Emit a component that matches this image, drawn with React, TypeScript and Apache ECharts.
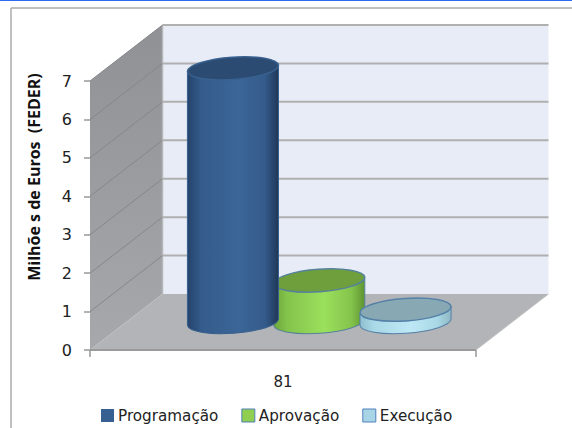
import React, { useEffect, useRef } from "react";
import * as echarts from "echarts";

const categories = ["81"];
const seriesNames = ["Programação", "Aprovação", "Execução"];
const programacao = [6.6];
const aprovacao = [1.08];
const execucao = [0.32];
const yTicks = [0, 1, 2, 3, 4, 5, 6, 7];
const yTitle = "Milhõe s de Euros  (FEDER)";

const DEPTH_X = 72.5;
const DEPTH_Y = 56;
const TILT = 0.07;
const FONT = "'DejaVu Sans', sans-serif";

type Palette = { edgeL: string; side: string; mid: string; edgeR: string; top: string; line: string; swatch: string };
const palettes: Palette[] = [
  { edgeL: "#24436c", side: "#345b8b", mid: "#3c6698", edgeR: "#1f3757", top: "#2c4b72", line: "#38618f", swatch: "#376092" },
  { edgeL: "#6da53a", side: "#84c44c", mid: "#9be05c", edgeR: "#5f9431", top: "#6f9f3c", line: "#55829a", swatch: "#8fce4e" },
  { edgeL: "#8fbfce", side: "#a9d8e6", mid: "#bfe8f5", edgeR: "#8fb7c4", top: "#88a9b4", line: "#5581a8", swatch: "#a8d5e5" },
];

function cylinder(slot: number, pal: Palette) {
  return (params: any, api: any) => {
    const band = api.size([1, 0])[0];
    const zero = api.coord([api.value(0), 0]);
    const top = api.coord([api.value(0), api.value(1)]);
    const rx = band * 0.118;
    const ry = 11.2;
    const cx = zero[0] + DEPTH_X / 2 + slot * band * 0.2235;
    const baseY = zero[1] - DEPTH_Y / 2;
    const topY = top[1] - DEPTH_Y / 2;
    const dy = rx * Math.sin(TILT);
    const fill = new echarts.graphic.LinearGradient(0, 0, 1, 0, [
      { offset: 0, color: pal.edgeL },
      { offset: 0.15, color: pal.side },
      { offset: 0.55, color: pal.mid },
      { offset: 0.85, color: pal.side },
      { offset: 1, color: pal.edgeR },
    ]);
    const thin = { stroke: pal.line, lineWidth: 1 };
    return {
      type: "group",
      children: [
        {
          type: "ellipse",
          shape: { cx: 0, cy: 0, rx, ry },
          x: cx,
          y: baseY,
          rotation: TILT,
          style: { fill, ...thin },
        },
        {
          type: "polygon",
          shape: {
            points: [
              [cx - rx, topY + dy],
              [cx + rx, topY - dy],
              [cx + rx, baseY - dy],
              [cx - rx, baseY + dy],
            ],
          },
          style: { fill },
        },
        { type: "line", shape: { x1: cx - rx, y1: topY + dy, x2: cx - rx, y2: baseY + dy }, style: thin },
        { type: "line", shape: { x1: cx + rx, y1: topY - dy, x2: cx + rx, y2: baseY - dy }, style: thin },
        {
          type: "ellipse",
          shape: { cx: 0, cy: 0, rx, ry },
          x: cx,
          y: topY,
          rotation: TILT,
          style: { fill: pal.top, stroke: pal.line, lineWidth: 1.5 },
        },
      ],
    };
  };
}

function frame(params: any, api: any) {
  const v = api.value(0);
  const band = api.size([1, 0])[0];
  const p = api.coord([0, v]);
  const left = p[0] - band / 2;
  const right = left + band;
  const y = p[1];
  const children: any[] = [];
  const lo = api.coord([0, yTicks[0]])[1];
  const hi = api.coord([0, yTicks[yTicks.length - 1]])[1];
  if (params.dataIndex === 0) {
    children.push(
      {
        type: "polygon",
        shape: { points: [[left + DEPTH_X, lo - DEPTH_Y], [left + band + DEPTH_X, lo - DEPTH_Y], [left + band + DEPTH_X, hi - DEPTH_Y], [left + DEPTH_X, hi - DEPTH_Y]] },
        style: { fill: "#e8ecf6" },
      },
      {
        type: "polygon",
        shape: { points: [[left, lo], [left + DEPTH_X, lo - DEPTH_Y], [left + DEPTH_X, hi - DEPTH_Y], [left, hi]] },
        style: {
          fill: new echarts.graphic.LinearGradient(0, 0, 0, 1, [
            { offset: 0, color: "#8f9194" },
            { offset: 1, color: "#a6a8ab" },
          ]),
        },
      },
      {
        type: "polygon",
        shape: { points: [[left, lo], [right, lo], [right + DEPTH_X, lo - DEPTH_Y], [left + DEPTH_X, lo - DEPTH_Y]] },
        style: { fill: "#b2b4b7" },
      },
      { type: "line", shape: { x1: left + DEPTH_X, y1: hi - DEPTH_Y, x2: left + DEPTH_X, y2: lo - DEPTH_Y }, style: { stroke: "#b4b6b9", lineWidth: 1.5 } },
      { type: "line", shape: { x1: left, y1: lo, x2: right, y2: lo }, style: { stroke: "#9a9a9a", lineWidth: 2 } },
      { type: "line", shape: { x1: right, y1: lo, x2: right + DEPTH_X, y2: lo - DEPTH_Y }, style: { stroke: "#c4c4c4", lineWidth: 1 } },
    );
  }
  if (params.dataIndex > 0) {
    children.push(
      { type: "line", shape: { x1: left, y1: y, x2: left + DEPTH_X, y2: y - DEPTH_Y }, style: { stroke: "#85878a", lineWidth: 1 } },
      { type: "line", shape: { x1: left + DEPTH_X, y1: y - DEPTH_Y, x2: left + DEPTH_X + band, y2: y - DEPTH_Y }, style: { stroke: "#b0b0b0", lineWidth: 2 } },
    );
  }
  return { type: "group", children };
}

export default function App() {
  const ref = useRef<HTMLDivElement>(null);
  useEffect(() => {
    const chart = echarts.init(ref.current!, null, { renderer: "svg" });
    const values = [programacao, aprovacao, execucao];
    const zs = [5, 3, 4];
    chart.setOption({
      animation: false,
      backgroundColor: "#ffffff",
      textStyle: { fontFamily: FONT },
      grid: { left: 90, right: 96, top: 81, bottom: 78, containLabel: false },
      xAxis: {
        type: "category",
        data: categories,
        axisLine: { show: false },
        axisTick: { show: true, length: 7, lineStyle: { color: "#999999", width: 1.5 } },
        axisLabel: { margin: 24, fontSize: 15, color: "#222222", fontFamily: FONT },
      },
      yAxis: {
        type: "value",
        min: 0,
        max: 7,
        interval: 1,
        axisLine: { show: false },
        axisTick: { show: true, length: 6, lineStyle: { color: "#999999", width: 1.5 } },
        axisLabel: { margin: 18, fontSize: 16, color: "#222222", fontFamily: FONT },
        splitLine: { show: false },
      },
      legend: {
        left: 96,
        top: 403,
        itemWidth: 13,
        itemHeight: 13,
        itemGap: 23,
        icon: "rect",
        textStyle: { fontSize: 15.2, color: "#222222", fontFamily: FONT, padding: [0, 0, 0, -1] },
        data: seriesNames.map((name, i) => ({
          name,
          itemStyle: { color: palettes[i].swatch, borderColor: "#4f81bd", borderWidth: i === 0 ? 0 : 1 },
        })),
      },
      graphic: [
        { type: "line", z: 10, shape: { x1: 0, y1: 0.5, x2: 572, y2: 0.5 }, style: { stroke: "#2b6cf5", lineWidth: 1 } },
        { type: "line", z: 10, shape: { x1: 11, y1: 8, x2: 572, y2: 8 }, style: { stroke: "#ababab", lineWidth: 1.5 } },
        { type: "line", z: 10, shape: { x1: 11, y1: 8, x2: 11, y2: 428 }, style: { stroke: "#ababab", lineWidth: 1.5 } },
        {
          type: "text",
          z: 10,
          x: 34,
          y: 177,
          rotation: Math.PI / 2,
          style: {
            text: yTitle,
            fontFamily: "'Open Sans', sans-serif",
            fontWeight: "bold",
            fontSize: 16,
            fill: "#111111",
            textAlign: "center",
            textVerticalAlign: "middle",
          },
        },
      ],
      series: [
        {
          type: "custom",
          name: "frame",
          silent: true,
          z: 1,
          clip: false,
          encode: { y: 0 },
          data: yTicks.map((v) => [v]),
          renderItem: frame,
        },
        ...seriesNames.map((name, i) => ({
          type: "custom",
          name,
          z: zs[i],
          clip: false,
          itemStyle: { color: palettes[i].swatch },
          encode: { x: 0, y: 1 },
          data: values[i].map((v, k) => [k, v]),
          renderItem: cylinder(i - 1, palettes[i]),
        })),
      ],
    });
    return () => chart.dispose();
  }, []);
  return <div ref={ref} style={{ width: 572, height: 428, position: "fixed", left: 0, top: 0 }} />;
}
